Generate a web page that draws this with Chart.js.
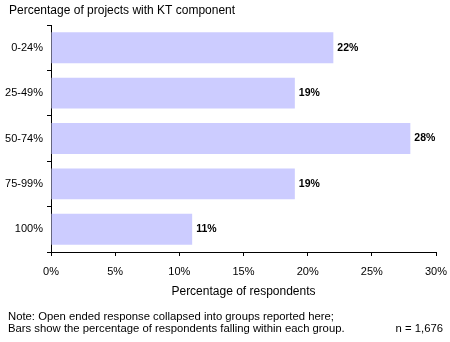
<!DOCTYPE html>
<html>
<head>
<meta charset="utf-8">
<title>KT component</title>
<script src="https://cdn.jsdelivr.net/npm/chart.js@4.4.0/dist/chart.umd.min.js"></script>
<style>
  body { margin: 0; background: #fff; }
  canvas { display: block; }
</style>
</head>
<body>
<canvas id="ktChart" width="450" height="342"></canvas>
<script>
// data
const groupLabels = ['0-24%', '25-49%', '50-74%', '75-99%', '100%'];
const respondentPct = [22, 19, 28, 19, 11];
const xTicks = [0, 5, 10, 15, 20, 25, 30];

const chartTitle = 'Percentage of projects with KT component';
const axisTitle = 'Percentage of respondents';
const noteLines = [
  'Note: Open ended response collapsed into groups reported here;',
  'Bars show the percentage of respondents falling within each group.'
];
const sampleSize = 'n = 1,676';

const FONT = '"Liberation Sans", Arial, sans-serif';

// title, value labels and footnote
const textPlugin = {
  id: 'ktText',
  afterDraw(chart) {
    const ctx = chart.ctx;
    ctx.save();
    ctx.fillStyle = '#000';
    ctx.textBaseline = 'middle';

    ctx.font = '12px ' + FONT;
    ctx.textAlign = 'left';
    ctx.fillText(chartTitle, 9, 11);

    // value next to each bar end
    ctx.font = 'bold 10.5px ' + FONT;
    chart.getDatasetMeta(0).data.forEach((bar, i) => {
      ctx.fillText(respondentPct[i] + '%', bar.x + 4, bar.y);
    });

    ctx.font = '11.3px ' + FONT;
    noteLines.forEach((line, i) => {
      ctx.fillText(line, 8, 317 + i * 12);
    });
    ctx.textAlign = 'right';
    ctx.fillText(sampleSize, 443, 329);
    ctx.restore();
  }
};

const data = {
  labels: groupLabels,
  datasets: [{
    data: respondentPct,
    backgroundColor: '#CCCCFF',
    borderWidth: 0,
    categoryPercentage: 1,
    barPercentage: 0.68
  }]
};

const config = {
  type: 'bar',
  data: data,
  options: {
    responsive: false,
    animation: false,
    indexAxis: 'y',
    layout: { padding: { top: 25, right: 14, bottom: 40, left: 0 } },
    plugins: {
      legend: { display: false },
      tooltip: { enabled: false }
    },
    scales: {
      x: {
        min: 0,
        max: 30,
        afterBuildTicks: s => { s.ticks = xTicks.map(v => ({ value: v })); },
        afterFit: s => {
          s.height = 50;
          s.paddingLeft = 0;
          s.paddingRight = 0;
        },
        ticks: {
          color: '#000',
          font: { family: FONT, size: 11 },
          padding: 9,
          maxRotation: 0,
          callback: v => v + '%'
        },
        grid: { drawOnChartArea: false, tickLength: 4, color: '#000' },
        border: { color: '#000' },
        title: {
          display: true,
          text: axisTitle,
          color: '#000',
          font: { family: FONT, size: 12 },
          padding: { top: 0, bottom: 3 }
        }
      },
      y: {
        afterFit: s => { s.width = 51; },
        ticks: {
          color: '#000',
          font: { family: FONT, size: 11 },
          padding: 4
        },
        grid: { offset: true, drawOnChartArea: false, tickLength: 4, color: '#000' },
        border: { color: '#000' }
      }
    }
  },
  plugins: [textPlugin]
};

let ctx = document.getElementById('ktChart').getContext('2d');
new Chart(ctx, config);
</script>
</body>
</html>
